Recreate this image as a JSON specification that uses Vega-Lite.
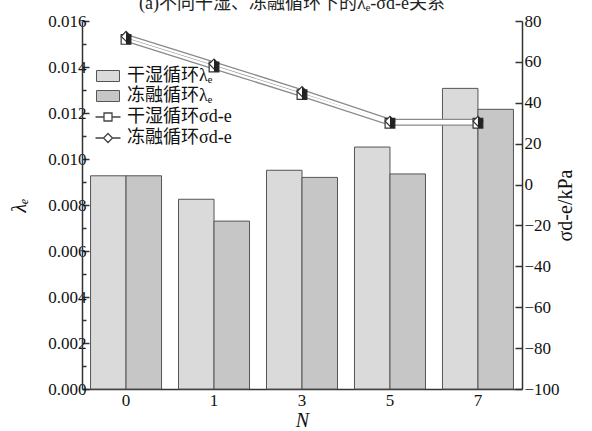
{
  "$schema": "https://vega.github.io/schema/vega-lite/v6.json",
  "width": 440,
  "height": 368,
  "autosize": "none",
  "padding": {"left": 82, "top": 21, "right": 70, "bottom": 42},
  "background": "white",
  "title": {
    "text": "(a)不同干湿、冻融循环下的λₑ-σd-e关系",
    "font": "Liberation Serif, DejaVu Serif, Noto Sans CJK SC, serif",
    "fontSize": 18,
    "fontWeight": "normal",
    "color": "#222",
    "offset": -1,
    "dx": -10
  },
  "config": {
    "font": "Liberation Serif, DejaVu Serif, Noto Sans CJK SC, serif",
    "view": {"stroke": null},
    "axis": {"grid": false, "domainColor": "#333", "tickColor": "#333", "labelColor": "#111", "titleColor": "#111", "labelFont": "Liberation Serif, DejaVu Serif, serif", "titleFont": "Liberation Serif, DejaVu Serif, serif", "titleFontWeight": "normal", "labelFontSize": 17, "titleFontSize": 20, "domainWidth": 1.5, "tickWidth": 1.5},
    "legend": {"labelFont": "Liberation Serif, DejaVu Serif, Noto Sans CJK SC, serif", "labelFontSize": 18, "labelColor": "#111"}
  },
  "datasets": {
    "bars": [
      {"N": "0", "series": "干湿循环λₑ", "lambda": 0.00927},
      {"N": "0", "series": "冻融循环λₑ", "lambda": 0.00927},
      {"N": "1", "series": "干湿循环λₑ", "lambda": 0.00825},
      {"N": "1", "series": "冻融循环λₑ", "lambda": 0.0073},
      {"N": "3", "series": "干湿循环λₑ", "lambda": 0.00951},
      {"N": "3", "series": "冻融循环λₑ", "lambda": 0.0092},
      {"N": "5", "series": "干湿循环λₑ", "lambda": 0.01052},
      {"N": "5", "series": "冻融循环λₑ", "lambda": 0.00935},
      {"N": "7", "series": "干湿循环λₑ", "lambda": 0.01307},
      {"N": "7", "series": "冻融循环λₑ", "lambda": 0.01216}
    ],
    "lines": [
      {"N": "0", "series2": "干湿循环σd-e", "sigma": 71},
      {"N": "1", "series2": "干湿循环σd-e", "sigma": 57.5},
      {"N": "3", "series2": "干湿循环σd-e", "sigma": 44},
      {"N": "5", "series2": "干湿循环σd-e", "sigma": 30},
      {"N": "7", "series2": "干湿循环σd-e", "sigma": 30},
      {"N": "0", "series2": "冻融循环σd-e", "sigma": 72.5},
      {"N": "1", "series2": "冻融循环σd-e", "sigma": 59},
      {"N": "3", "series2": "冻融循环σd-e", "sigma": 45.5},
      {"N": "5", "series2": "冻融循环σd-e", "sigma": 31},
      {"N": "7", "series2": "冻融循环σd-e", "sigma": 31}
    ]
  },
  "encoding": {
    "x": {
      "field": "N", "type": "ordinal", "sort": ["0", "1", "3", "5", "7"],
      "scale": {"paddingInner": 0.193, "paddingOuter": 0.097},
      "axis": {"title": "N", "titleFontStyle": "italic", "labelAngle": 0, "ticks": false, "labelPadding": 3, "titlePadding": 2}
    }
  },
  "layer": [
    {
      "data": {"name": "bars"},
      "mark": {"type": "bar", "stroke": "#555", "strokeWidth": 1},
      "encoding": {
        "xOffset": {"field": "series", "sort": ["干湿循环λₑ", "冻融循环λₑ"], "scale": {"paddingInner": 0, "paddingOuter": 0}},
        "y": {
          "field": "lambda", "type": "quantitative",
          "scale": {"domain": [0, 0.016], "nice": false},
          "axis": {
            "title": "λₑ", "titleFontStyle": "italic", "titlePadding": 18,
            "values": [0, 0.001, 0.002, 0.003, 0.004, 0.005, 0.006, 0.007, 0.008, 0.009, 0.01, 0.011, 0.012, 0.013, 0.014, 0.015, 0.016],
            "labelExpr": "round(datum.value*1000) % 2 == 0 ? format(datum.value, '.3f') : ''",
            "tickSize": {"condition": {"test": "round(datum.value*1000) % 2 == 0", "value": -7}, "value": -4},
            "labelPadding": 3
          }
        },
        "fill": {
          "field": "series", "type": "nominal",
          "scale": {"domain": ["干湿循环λₑ", "冻融循环λₑ"], "range": ["#dadada", "#c6c6c6"]},
          "legend": {
            "title": null, "orient": "none", "legendX": 17, "legendY": 46,
            "symbolType": "M-2.3,-1.1H2.3V1.1H-2.3Z", "symbolSize": 100,
            "symbolStrokeColor": "#555", "symbolStrokeWidth": 1, "symbolOpacity": 1,
            "rowPadding": 2, "labelOffset": 10
          }
        }
      }
    },
    {
      "data": {"name": "lines"},
      "encoding": {
        "y": {
          "field": "sigma", "type": "quantitative",
          "scale": {"domain": [-100, 80], "nice": false},
          "axis": {
            "orient": "right", "title": "σd-e/kPa", "titleAngle": -90, "titlePadding": 16,
            "values": [-100, -80, -60, -40, -20, 0, 20, 40, 60, 80],
            "tickSize": -7, "labelPadding": 9
          }
        }
      },
      "layer": [
        {
          "transform": [{"filter": "datum.sigma > 1000"}],
          "mark": {"type": "point", "filled": false, "stroke": "#444", "strokeWidth": 1.3, "size": 100, "opacity": 1},
          "encoding": {
            "shape": {
              "field": "series2", "type": "nominal",
              "scale": {"domain": ["干湿循环σd-e", "冻融循环σd-e"], "range": ["M-2.5,0H-0.8M0.8,0H2.5M-0.8,-0.8H0.8V0.8H-0.8Z", "M-2.5,0H-0.9M0.9,0H2.5M0,-0.9L0.9,0L0,0.9L-0.9,0Z"]},
              "legend": {
                "title": null, "orient": "none", "legendX": 17, "legendY": 87,
                "rowPadding": 3, "labelOffset": 10, "symbolSize": 100,
                "symbolStrokeColor": "#444", "symbolStrokeWidth": 1.3, "symbolOpacity": 1
              }
            }
          }
        },
        {"mark": {"type": "line", "stroke": "#8a8a8a", "strokeWidth": 5}, "encoding": {"detail": {"field": "series2"}}},
        {"mark": {"type": "line", "stroke": "white", "strokeWidth": 2.4}, "encoding": {"detail": {"field": "series2"}}},
        {
          "mark": {"type": "point", "filled": true, "fill": "white", "stroke": "#333", "strokeWidth": 1.2, "size": 95, "opacity": 1},
          "encoding": {
            "shape": {
              "field": "series2", "type": "nominal",
              "scale": {"domain": ["干湿循环σd-e", "冻融循环σd-e"], "range": ["square", "diamond"]},
              "legend": null
            }
          }
        },
        {
          "mark": {"type": "point", "filled": true, "fill": "#222", "strokeWidth": 0, "size": 95, "opacity": 1},
          "encoding": {
            "shape": {
              "field": "series2", "type": "nominal",
              "scale": {"domain": ["干湿循环σd-e", "冻融循环σd-e"], "range": ["M0,-1H1V1H0Z", "M0,-1L1,0L0,1Z"]},
              "legend": null
            }
          }
        }
      ],
      "resolve": {"scale": {"shape": "independent"}}
    }
  ],
  "resolve": {"scale": {"y": "independent"}}
}
